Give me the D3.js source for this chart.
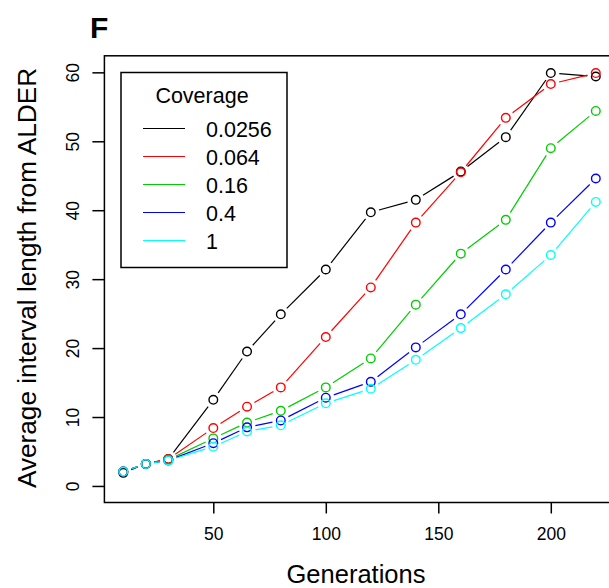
<!DOCTYPE html>
<html>
<head>
<meta charset="utf-8">
<title>Coverage vs interval length</title>
<script src="https://cdnjs.cloudflare.com/ajax/libs/d3/7.8.5/d3.min.js"></script>
<style>
    body { margin: 0; background: #fff; }
    text { font-family: "Liberation Sans", Arial, sans-serif; fill: #000; }
</style>
</head>
<body>
<div id="chart"></div>
<script>
    // generations on the x axis
    var generations = [10, 20, 30, 50, 65, 80, 100, 120, 140, 160, 180, 200, 220];

    // average interval length per coverage level
    var cov0256 = [1.9, 3.2, 3.9, 12.5, 19.5, 24.9, 31.4, 39.7, 41.5, 45.6, 50.6, 59.9, 59.4];
    var cov064  = [2.1, 3.2, 3.9, 8.4, 11.5, 14.3, 21.6, 28.8, 38.2, 45.5, 53.4, 58.3, 59.9];
    var cov16   = [2.1, 3.2, 3.8, 6.9, 9.2, 10.9, 14.3, 18.5, 26.3, 33.7, 38.6, 49.0, 54.4];
    var cov4    = [2.1, 3.2, 3.7, 6.2, 8.5, 9.5, 12.8, 15.1, 20.1, 24.9, 31.4, 38.2, 44.6];
    var cov1    = [2.1, 3.2, 3.7, 5.7, 7.9, 8.8, 12.0, 14.1, 18.3, 22.9, 27.8, 33.5, 41.2];

    var coverageLabels = ['0.0256', '0.064', '0.16', '0.4', '1'];
    var coverageColors = ['#000000', '#ff0000', '#00cd00', '#0000ff', '#00ffff'];
    var xTicks = [50, 100, 150, 200];
    var yTicks = [0, 10, 20, 30, 40, 50, 60];

    var series = [cov0256, cov064, cov16, cov4, cov1];

    var width = 609;
    var height = 588;

    var xScale = d3.scaleLinear()
        .domain([1.6, 228.4])
        .range([104.4, 614.7]);

    var yScale = d3.scaleLinear()
        .domain([-2.4, 62.4])
        .range([502.5, 55.8]);

    var svg = d3.select('#chart')
        .append('svg')
        .attr('width', width)
        .attr('height', height);

    svg.append('rect')
        .attr('width', width)
        .attr('height', height)
        .attr('fill', '#fff');

    // plot box (right side falls outside the picture)
    svg.append('rect')
        .attr('x', xScale(1.6))
        .attr('y', yScale(62.4))
        .attr('width', xScale(228.4) - xScale(1.6))
        .attr('height', yScale(-2.4) - yScale(62.4))
        .attr('fill', 'none')
        .attr('stroke', '#000')
        .attr('stroke-width', 1.5);

    var xAxis = d3.axisBottom(xScale)
        .tickValues(xTicks)
        .tickSize(11)
        .tickPadding(14);

    var yAxis = d3.axisLeft(yScale)
        .tickValues(yTicks)
        .tickSize(12)
        .tickPadding(0);

    var gX = svg.append('g')
        .attr('transform', 'translate(0,' + yScale(-2.4) + ')')
        .call(xAxis);
    gX.select('.domain').remove();
    gX.selectAll('line').attr('stroke', '#000').attr('stroke-width', 1.5);
    gX.selectAll('text')
        .attr('font-size', 17.5)
        .attr('font-family', '"Liberation Sans", Arial, sans-serif')
        .attr('fill', '#000');

    var gY = svg.append('g')
        .attr('transform', 'translate(' + xScale(1.6) + ',0)')
        .call(yAxis);
    gY.select('.domain').remove();
    gY.selectAll('line').attr('stroke', '#000').attr('stroke-width', 1.5);
    // R draws y labels parallel to the axis
    gY.selectAll('text')
        .attr('font-size', 17.5)
        .attr('font-family', '"Liberation Sans", Arial, sans-serif')
        .attr('fill', '#000')
        .attr('text-anchor', 'middle')
        .attr('dy', null)
        .attr('x', 0)
        .attr('y', 0)
        .attr('transform', 'translate(-25,0) rotate(-90)');

    // axis titles
    svg.append('text')
        .attr('x', 356)
        .attr('y', 582.5)
        .attr('text-anchor', 'middle')
        .attr('font-size', 25.5)
        .text('Generations');

    svg.append('text')
        .attr('transform', 'translate(36,' + 278 + ') rotate(-90)')
        .attr('text-anchor', 'middle')
        .attr('font-size', 26.2)
        .text('Average interval length from ALDER');

    svg.append('text')
        .attr('x', 90)
        .attr('y', 37.5)
        .attr('font-size', 30)
        .attr('font-weight', 'bold')
        .text('F');

    // lines with gaps around points (type = "b")
    var gap = 8.5;
    series.forEach(function (vals, s) {
        var g = svg.append('g');
        for (var i = 0; i < vals.length - 1; i++) {
            var x1 = xScale(generations[i]), y1 = yScale(vals[i]);
            var x2 = xScale(generations[i + 1]), y2 = yScale(vals[i + 1]);
            var len = Math.sqrt((x2 - x1) * (x2 - x1) + (y2 - y1) * (y2 - y1));
            if (len <= 2 * gap) continue;
            var ux = (x2 - x1) / len, uy = (y2 - y1) / len;
            g.append('line')
                .attr('x1', x1 + ux * gap)
                .attr('y1', y1 + uy * gap)
                .attr('x2', x2 - ux * gap)
                .attr('y2', y2 - uy * gap)
                .attr('stroke', coverageColors[s])
                .attr('stroke-width', 1.2);
        }
        g.selectAll('circle')
            .data(vals)
            .enter()
            .append('circle')
            .attr('cx', function (d, i) { return xScale(generations[i]); })
            .attr('cy', function (d) { return yScale(d); })
            .attr('r', 4.3)
            .attr('fill', 'none')
            .attr('stroke', coverageColors[s])
            .attr('stroke-width', 1.4);
    });

    // legend
    var legend = svg.append('g');
    legend.append('rect')
        .attr('x', 121)
        .attr('y', 72.5)
        .attr('width', 166)
        .attr('height', 195)
        .attr('fill', '#fff')
        .attr('stroke', '#000')
        .attr('stroke-width', 1.5);

    legend.append('text')
        .attr('x', 202)
        .attr('y', 102.5)
        .attr('text-anchor', 'middle')
        .attr('font-size', 21.5)
        .text('Coverage');

    for (var i = 0; i < coverageLabels.length; i++) {
        var ly = 128.5 + i * 28;
        legend.append('line')
            .attr('x1', 143)
            .attr('x2', 185)
            .attr('y1', ly)
            .attr('y2', ly)
            .attr('stroke', coverageColors[i])
            .attr('stroke-width', 1.2);
        legend.append('text')
            .attr('x', 206)
            .attr('y', ly + 8)
            .attr('font-size', 21.5)
            .text(coverageLabels[i]);
    }
</script>
</body>
</html>
